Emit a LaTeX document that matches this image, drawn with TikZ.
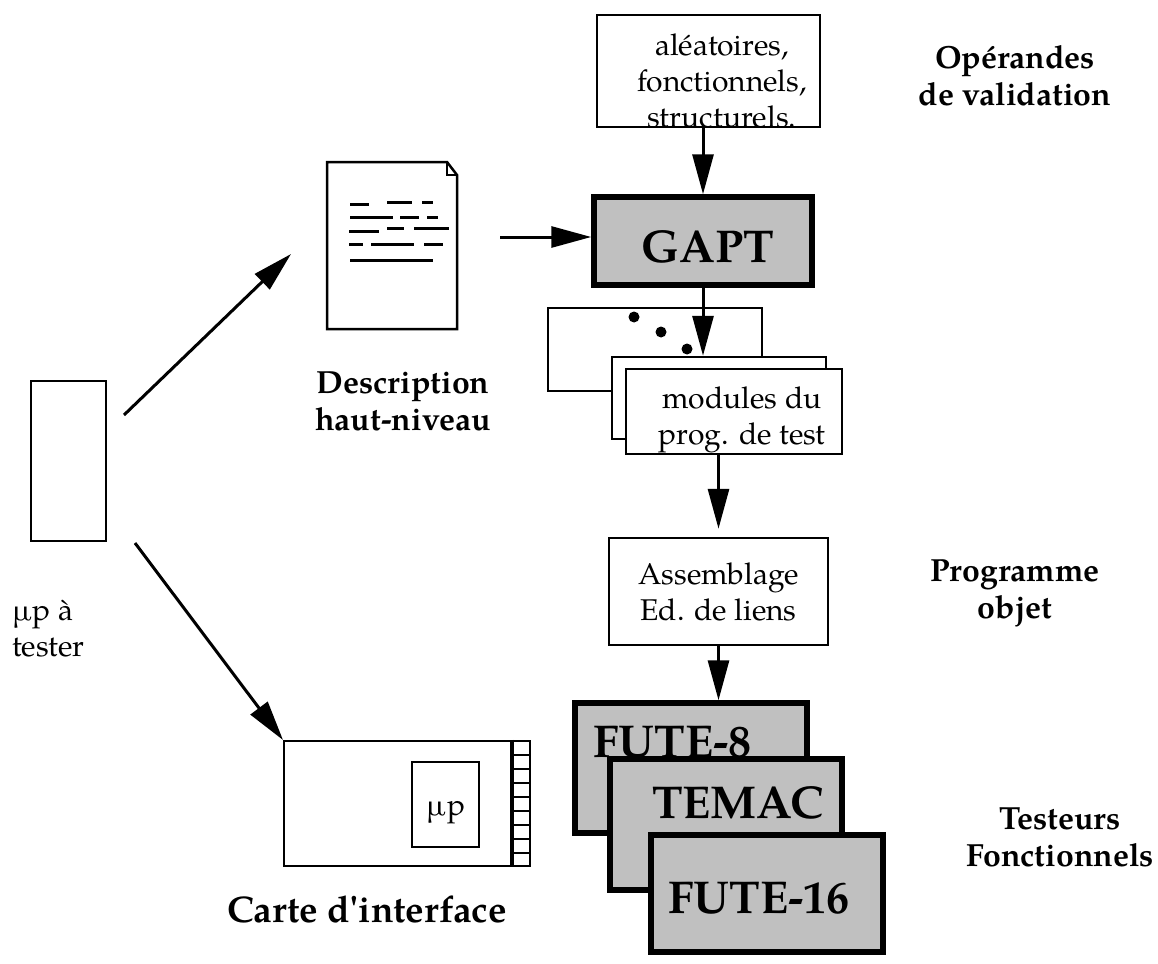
\documentclass[tikz,border=0pt]{standalone}
\usepackage{fontspec}
\setmainfont{texgyrepagella}[Extension=.otf, Ligatures=TeXOff, UprightFont=*-regular, BoldFont=*-bold, ItalicFont=*-italic, BoldItalicFont=*-bolditalic]
\usetikzlibrary{arrows.meta}
\definecolor{boxgray}{RGB}{192,192,192}

\begin{document}
\begin{tikzpicture}[x=1pt,y=-1pt,
	wbox/.style={draw,fill=white,line width=2.5pt,inner sep=0pt},
	gbox/.style={draw,fill=boxgray,line width=5.5pt,inner sep=0pt},
	arr/.style={line width=3pt,-{Triangle[length=40pt,width=21pt]}},
	txt/.style={font=\fontsize{30}{36}\selectfont,align=center,inner sep=0pt},
	lbl/.style={font=\fontsize{32}{37}\selectfont\bfseries,align=center,inner sep=0pt},
	big/.style={font=\fontsize{46}{50}\selectfont\bfseries,inner sep=0pt}]
			\useasboundingbox (0,0) rectangle (1158,963);
			
			% Validation operands and GAPT
			\node[wbox,minimum width=223pt,minimum height=112pt] (ops) at (708.5,71) {};
			\node[txt] (opstxt) at (722,81) {aléatoires,\\fonctionnels,\\structurels.};
			\node[lbl] (opslbl) at (1015,76) {Opérandes\\de validation};
			\node[gbox,minimum width=218pt,minimum height=88pt] (gapt) at (703,241) {};
			\node[big,anchor=base] (gapttxt) at (708,262) {GAPT};
			\draw[arr] (gapt.north |- ops.south) -- (gapt.north);
			
			% High-level description
			\draw[line width=2.5pt,line join=miter] (327,162) -- (447,162) -- (457,175) -- (457,329) -- (327,329) -- cycle;
			\draw[line width=2.5pt] (447,162) -- (447,175) -- (457,175);
			\foreach \xa/\xb/\yy in {350/369/204,387/412/202,422/433/202,
				350/393/217,400/419/217,427/438/217,
				349/379/231,387/404/228,414/449/228,
				349/363/244,371/414/244,424/443/244,
				350/433/260}
				\draw[line width=3pt] (\xa,\yy) -- (\xb,\yy);
			\node[lbl] (desclbl) at (403,401) {Description\\haut-niveau};
			\coordinate (docr) at (500,237);
			\draw[arr] (docr) -- (docr -| gapt.west);
			
			% Test program modules
			\node[wbox,minimum width=214pt,minimum height=83pt] (backmod) at (655,349.5) {};
			\foreach \xx/\yy in {634/317,661/332,687/349}
				\fill (\xx,\yy) circle (5.5pt);
			\node[wbox,minimum width=214pt,minimum height=82pt] (midmod) at (719,398) {};
			\node[wbox,minimum width=216pt,minimum height=85pt] (frontmod) at (734,411.5) {};
			\node[txt] (modtxt) at (742,420) {modules du\\prog. de test};
			\draw[arr] (gapt.south) -- (gapt.south |- midmod.north);
			
			% Object program
			\node[wbox,txt,draw,line width=2.5pt,minimum width=219pt,minimum height=107pt] (asm) at (718.5,591.5) {Assemblage\\Ed. de liens};
			\node[lbl] (proglbl) at (1015,593) {Programme\\objet};
			\draw[arr,shorten >=8pt] (frontmod.south -| asm.north) -- (asm.north);
			
			% Functional testers
			\node[gbox,minimum width=232pt,minimum height=130pt] (fute8) at (691,768) {};
			\node[big,anchor=base west] (fute8txt) at (593,757) {FUTE-8};
			\node[gbox,minimum width=232pt,minimum height=131pt] (temac) at (726,824.5) {};
			\node[big,anchor=base west] (temactxt) at (652,818) {TEMAC};
			\node[gbox,minimum width=232pt,minimum height=117pt] (fute16) at (767,893.5) {};
			\node[big,anchor=base west] (fute16txt) at (668,913) {FUTE-16};
			\node[lbl] (testlbl) at (1060,837) {Testeurs\\Fonctionnels};
			\draw[arr] (asm.south) -- (asm.south |- fute8.north);
			
			% Processor under test and interface card
			\node[wbox,minimum width=75pt,minimum height=160pt] (chip) at (68.5,461) {};
			\node[txt,align=left,anchor=west] (chiplbl) at (12,629) {µp à\\tester};
			\node[wbox,minimum width=229pt,minimum height=125pt] (card) at (398.5,803.5) {};
			\node[wbox,minimum width=17pt,minimum height=125pt] (strip) at (521.5,803.5) {};
			\draw[line width=4pt] (strip.north west) -- (strip.south west);
			\foreach \yy in {755,769,...,853}
				\draw[line width=2.5pt] (strip.west |- 0,\yy) -- (strip.east |- 0,\yy);
			\node[wbox,minimum width=67pt,minimum height=85pt] (cpu) at (445.5,804.5) {};
			\node[txt,anchor=base] (cputxt) at (446,815) {µp};
			\node[lbl,font=\fontsize{37}{42}\selectfont\bfseries,anchor=base] (cartelbl) at (367,922) {Carte d'interface};
			\coordinate (up0) at (124,415);
			\coordinate (up1) at (291,254);
			\coordinate (dn0) at (135,543);
			\coordinate (dn1) at (283,740);
			\draw[arr] (up0) -- (up1);
			\draw[arr] (dn0) -- (dn1);
		\end{tikzpicture}
\end{document}
